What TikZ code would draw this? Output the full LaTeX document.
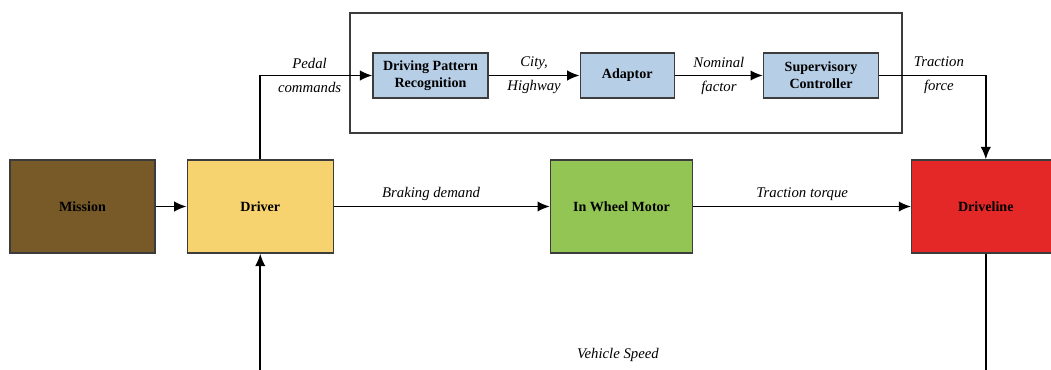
\documentclass[tikz,border=0pt]{standalone}
\usepackage{fontspec}
\setmainfont{Liberation Serif}
\usetikzlibrary{positioning, arrows.meta}
\definecolor{missionbrown}{HTML}{785A28}
\definecolor{driveryellow}{HTML}{F6D36F}
\definecolor{motorgreen}{HTML}{92C553}
\definecolor{drivered}{HTML}{E42828}
\definecolor{ctrlblue}{HTML}{B7CFE6}
\definecolor{edgegray}{HTML}{3C3C3C}

\begin{document}
\begin{tikzpicture}[
  block/.style={rectangle, draw=edgegray, line width=0.9pt, minimum width=3.65cm,
                minimum height=2.325cm, align=center, font=\fontsize{10}{12}\selectfont\bfseries},
  ctrl/.style={rectangle, draw=edgegray, line width=0.9pt, fill=ctrlblue, minimum width=2.875cm,
               minimum height=1.125cm, align=center, font=\fontsize{10}{12}\selectfont\bfseries},
  line/.style={draw, -{Latex[length=3.1mm, width=2.6mm]}, line width=1.3pt},
  lbl/.style={font=\fontsize{10.5}{17}\selectfont\itshape, align=center},
  node distance=0.775cm
]
\useasboundingbox (0,0) rectangle (26.275,-9.225);
% Nodes
\node[block, fill=missionbrown, minimum width=3.625cm] (mission) at (2.0625,-5.1625) {Mission};
\node[block, fill=driveryellow, right=of mission] (driver) {Driver};
\node[block, fill=motorgreen, minimum width=3.55cm, right=5.4cm of driver] (motor) {In Wheel Motor};
\node[block, fill=drivered, minimum width=3.7cm, right=5.45cm of motor] (driveline) {Driveline};
\node[ctrl] (dpr) at (10.7625,-1.8875) {Driving Pattern\\Recognition};
\node[ctrl, minimum width=2.35cm, right=2.275cm of dpr] (adaptor) {Adaptor};
\node[ctrl, right=2.2cm of adaptor] (super) {Supervisory\\Controller};
\draw[edgegray, line width=0.9pt] (8.75,-0.325) rectangle (22.55,-3.325);
\coordinate (fb) at (15.45,-9.6);
% Edges
\path[line] (mission) -- (driver);
\path[line] (driver) -- node[lbl, above, pos=0.45]{Braking demand} (motor);
\path[line] (motor) -- node[lbl, above]{Traction torque} (driveline);
\path[line] (driver.north) |- node[lbl, pos=0.72]{Pedal\\commands} (dpr.west);
\path[line] (dpr) -- node[lbl]{City,\\Highway} (adaptor);
\path[line] (adaptor) -- node[lbl]{Nominal\\factor} (super);
\path[line] (super.east) -| node[lbl, pos=0.28]{Traction\\force} (driveline.north);
\path[line] (driveline.south) |- (fb) node[lbl, above=0.42cm]{Vehicle Speed} -| (driver.south);
\end{tikzpicture}
\end{document}
